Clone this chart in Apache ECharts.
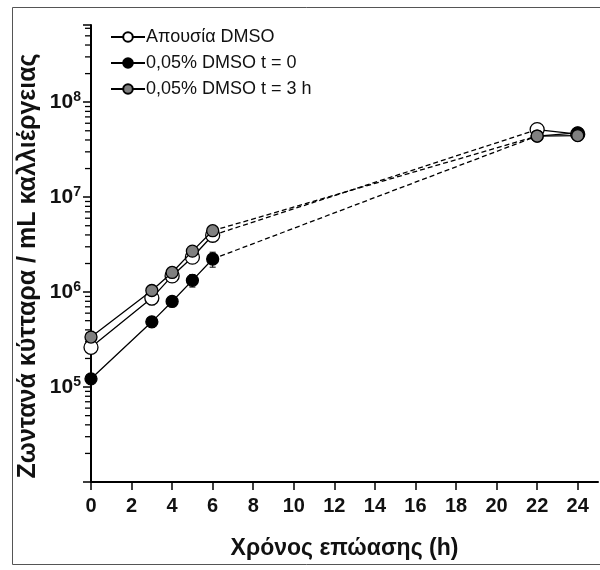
<!DOCTYPE html>
<html>
<head>
<meta charset="utf-8">
<script src="https://cdn.jsdelivr.net/npm/echarts@6/dist/echarts.min.js"></script>
<style>
html,body{margin:0;padding:0;background:#fff;}
#chart{width:600px;height:570px;}
</style>
</head>
<body>
<div id="chart"></div>
<script>
// ---- data ----
const hours = [0, 3, 4, 5, 6, 22, 24];
const noDmso = [2.62e5, 8.65e5, 1.48e6, 2.33e6, 3.97e6, 5.15e7, 4.6e7];
const dmsoT0 = [1.22e5, 4.86e5, 7.97e5, 1.33e6, 2.23e6, 4.4e7, 4.75e7];
const dmsoT3 = [3.36e5, 1.04e6, 1.61e6, 2.70e6, 4.43e6, 4.4e7, 4.45e7];
const noDmsoErr = [3.0e4, 1.3e5, 1.2e5, 2.5e5, 3.5e5, 3.0e6, 2.0e6];
const dmsoT0Err = [1.0e4, 6.0e4, 6.0e4, 2.0e5, 4.0e5, 2.0e6, 2.0e6];
const dmsoT3Err = [5.0e4, 8.0e4, 1.2e5, 2.0e5, 3.0e5, 2.0e6, 2.0e6];
const seriesNames = ['Απουσία DMSO', '0,05% DMSO t = 0', '0,05% DMSO t = 3 h'];
const xTicks = [0, 2, 4, 6, 8, 10, 12, 14, 16, 18, 20, 22, 24];
const yMajorExps = [5, 6, 7, 8];
const xTitle = 'Χρόνος επώασης (h)';
const yTitle = 'Ζωντανά κύτταρα / mL καλλιέργειας';

const FONT = '"Liberation Sans", Arial, sans-serif';
const Y_MIN = 1e4, Y_MAX = 6.5e8;

// minor tick positions of the log axis (2..9 x 10^n)
const minorTicks = [];
for (let n = 4; n <= 8; n++) {
  for (let k = 2; k <= 9; k++) {
    const v = k * Math.pow(10, n);
    if (v < Y_MAX) minorTicks.push([0, v]);
  }
}

const groups = [
  {name: seriesNames[0], vals: noDmso, err: noDmsoErr, fill: '#ffffff', size: 14},
  {name: seriesNames[1], vals: dmsoT0, err: dmsoT0Err, fill: '#000000', size: 12},
  {name: seriesNames[2], vals: dmsoT3, err: dmsoT3Err, fill: '#808080', size: 12}
];

const series = [];
// y minor ticks
series.push({
  type: 'custom', name: '_minor', silent: true, clip: false,
  encode: {x: 0, y: 1},
  data: minorTicks,
  renderItem: function (params, api) {
    const p = api.coord([api.value(0), api.value(1)]);
    return {type: 'line', shape: {x1: p[0] - 6, y1: p[1], x2: p[0], y2: p[1]},
            style: {stroke: '#000', lineWidth: 1.3}};
  },
  z: 5
});
// dashed connections 6 h -> 22 h
groups.forEach(function (g, i) {
  const i6 = hours.indexOf(6), i22 = hours.indexOf(22);
  series.push({
    type: 'line', name: '_dash' + i, silent: true, symbol: 'none',
    data: [[hours[i6], g.vals[i6]], [hours[i22], g.vals[i22]]],
    lineStyle: {color: '#000', width: 1.3, type: [5, 3]},
    z: 2
  });
});
// error bars
groups.forEach(function (g, i) {
  series.push({
    type: 'custom', name: '_err' + i, silent: true,
    data: hours.map(function (h, j) { return [h, g.vals[j] - g.err[j], g.vals[j] + g.err[j]]; }),
    renderItem: function (params, api) {
      const lo = api.coord([api.value(0), api.value(1)]);
      const hi = api.coord([api.value(0), api.value(2)]);
      const w = 3;
      return {type: 'group', children: [
        {type: 'line', shape: {x1: lo[0], y1: lo[1], x2: hi[0], y2: hi[1]}, style: {stroke: '#000', lineWidth: 1}},
        {type: 'line', shape: {x1: lo[0] - w, y1: lo[1], x2: lo[0] + w, y2: lo[1]}, style: {stroke: '#000', lineWidth: 1}},
        {type: 'line', shape: {x1: hi[0] - w, y1: hi[1], x2: hi[0] + w, y2: hi[1]}, style: {stroke: '#000', lineWidth: 1}}
      ]};
    },
    z: 3
  });
});
// solid lines with markers (gap between 6 h and 22 h)
groups.forEach(function (g, i) {
  const data = [];
  hours.forEach(function (h, j) {
    if (h === 22) data.push([14, null]);
    data.push([h, g.vals[j]]);
  });
  series.push({
    type: 'line', name: g.name, connectNulls: false,
    symbol: 'circle', symbolSize: g.size,
    data: data,
    lineStyle: {color: '#000', width: 1.3},
    itemStyle: {color: g.fill, borderColor: '#000', borderWidth: 1.3},
    z: 6 + i
  });
});

const chart = echarts.init(document.getElementById('chart'), null, {renderer: 'canvas'});
chart.setOption({
  animation: false,
  backgroundColor: '#ffffff',
  textStyle: {fontFamily: FONT},
  grid: {left: 91, right: 2, top: 25, bottom: 88, containLabel: false},
  legend: {
    orient: 'vertical', left: 105, top: 23, itemGap: 8,
    itemWidth: 34, itemHeight: 12,
    data: seriesNames,
    textStyle: {fontFamily: FONT, fontSize: 18, color: '#111', padding: [0, 0, 0, -4]}
  },
  xAxis: {
    type: 'value', min: 0, max: 25, interval: 2,
    name: xTitle, nameLocation: 'middle', nameGap: 55,
    nameTextStyle: {fontFamily: FONT, fontSize: 23, fontWeight: 'bold', color: '#111'},
    axisLine: {show: true, onZero: false, lineStyle: {color: '#000', width: 2}},
    axisTick: {show: true, inside: false, length: 8, lineStyle: {color: '#000', width: 1.5},
               customValues: xTicks},
    axisLabel: {margin: 14, fontFamily: FONT, fontSize: 20, fontWeight: 'bold', color: '#111',
                customValues: xTicks},
    splitLine: {show: false}
  },
  yAxis: {
    type: 'log', logBase: 10, min: Y_MIN, max: Y_MAX,
    axisLine: {show: true, lineStyle: {color: '#000', width: 2}},
    axisTick: {show: true, inside: false, length: 8, lineStyle: {color: '#000', width: 1.5}},
    axisLabel: {
      margin: 10, color: '#111',
      formatter: function (v) {
        const e = Math.round(Math.log10(v));
        if (Math.abs(Math.log10(v) - e) > 1e-6 || yMajorExps.indexOf(e) < 0) return '';
        return '{b|10}{s|' + e + '}';
      },
      rich: {
        b: {fontFamily: FONT, fontSize: 21, fontWeight: 'bold', color: '#111'},
        s: {fontFamily: FONT, fontSize: 14, fontWeight: 'bold', color: '#111', padding: [0, 0, 10, 0]}
      }
    },
    splitLine: {show: false}
  },
  graphic: [
    {type: 'rect', left: 10, top: 5, shape: {width: 589, height: 557},
     style: {fill: 'none', stroke: '#555', lineWidth: 1}, z: -1},
    {type: 'text', x: 28, y: 266, rotation: Math.PI / 2,
     style: {text: yTitle, font: 'bold 25px ' + FONT, fill: '#111',
             textAlign: 'center', textVerticalAlign: 'middle'}}
  ],
  series: series
});
</script>
</body>
</html>
